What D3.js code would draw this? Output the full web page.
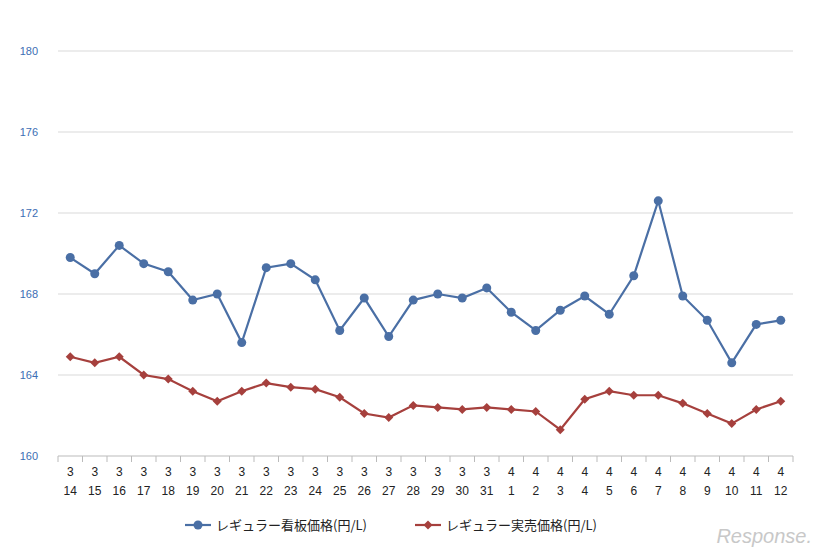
<!DOCTYPE html>
<html><head><meta charset="utf-8">
<script src="https://cdn.jsdelivr.net/npm/d3@7"></script>
<style>body{margin:0;background:#fff;font-family:"Noto Sans CJK JP","Liberation Sans",sans-serif}</style>
</head><body><svg id="c" width="827" height="557"></svg>
<script>
const months=[3,3,3,3,3,3,3,3,3,3,3,3,3,3,3,3,3,3,4,4,4,4,4,4,4,4,4,4,4,4];
const days=[14,15,16,17,18,19,20,21,22,23,24,25,26,27,28,29,30,31,1,2,3,4,5,6,7,8,9,10,11,12];
const signPrice=[169.8,169.0,170.4,169.5,169.1,167.7,168.0,165.6,169.3,169.5,168.7,166.2,167.8,165.9,167.7,168.0,167.8,168.3,167.1,166.2,167.2,167.9,167.0,168.9,172.6,167.9,166.7,164.6,166.5,166.7];
const actualPrice=[164.9,164.6,164.9,164.0,163.8,163.2,162.7,163.2,163.6,163.4,163.3,162.9,162.1,161.9,162.5,162.4,162.3,162.4,162.3,162.2,161.3,162.8,163.2,163.0,163.0,162.6,162.1,161.6,162.3,162.7];
const yTicks=[160,164,168,172,176,180];
const seriesNames=["レギュラー看板価格(円/L)","レギュラー実売価格(円/L)"];
const colors=["#4a6fa5","#a6403d"];

const svg=d3.select("#c");
const idx=d3.range(days.length);
const x=d3.scaleBand().domain(idx).range([58,793]);
const y=d3.scaleLinear().domain([160,180]).range([456,51]);

svg.append("g").selectAll("line").data(yTicks.slice(1)).join("line")
 .attr("x1",58).attr("x2",793).attr("y1",d=>y(d)).attr("y2",d=>y(d)).attr("stroke","#d9d9d9");
svg.append("line").attr("x1",58).attr("x2",793).attr("y1",y(160)).attr("y2",y(160)).attr("stroke","#bbb");
svg.append("g").selectAll("line").data(d3.range(days.length+1)).join("line")
 .attr("x1",d=>58+d*x.step()).attr("x2",d=>58+d*x.step()).attr("y1",456).attr("y2",462).attr("stroke","#bbb");
svg.append("g").selectAll("text").data(yTicks).join("text")
 .attr("x",38).attr("y",d=>y(d)+4).attr("text-anchor","end").attr("font-size",11).attr("fill","#3c6eb4")
 .attr("font-family","Liberation Sans").text(d=>d);
const xl=svg.append("g").attr("font-size",12).attr("fill","#222").attr("font-family","Liberation Sans").attr("text-anchor","middle");
idx.forEach(i=>{
 const cx=x(i)+x.bandwidth()/2;
 xl.append("text").attr("x",cx).attr("y",476).text(months[i]);
 xl.append("text").attr("x",cx).attr("y",495).text(days[i]);
});
const line=d3.line().x((d,i)=>x(i)+x.bandwidth()/2).y(d=>y(d));
[signPrice,actualPrice].forEach((s,k)=>{
 svg.append("path").attr("d",line(s)).attr("fill","none").attr("stroke",colors[k]).attr("stroke-width",2.2);
 const g=svg.append("g").attr("fill",colors[k]);
 s.forEach((v,i)=>{
  const cx=x(i)+x.bandwidth()/2, cy=y(v);
  if(k==0) g.append("circle").attr("cx",cx).attr("cy",cy).attr("r",4.5);
  else g.append("path").attr("d",`M${cx},${cy-4.5}L${cx+4.5},${cy}L${cx},${cy+4.5}L${cx-4.5},${cy}Z`);
 });
});
const lx=[185,415];
lx.forEach((lxx,k)=>{
 svg.append("line").attr("x1",lxx).attr("x2",lxx+26).attr("y1",525).attr("y2",525).attr("stroke",colors[k]).attr("stroke-width",2.2);
 if(k==0) svg.append("circle").attr("cx",lxx+13).attr("cy",525).attr("r",4.5).attr("fill",colors[k]);
 else svg.append("path").attr("d",`M${lxx+13},520.5L${lxx+17.5},525L${lxx+13},529.5L${lxx+8.5},525Z`).attr("fill",colors[k]);
 svg.append("text").attr("x",lxx+31).attr("y",530).attr("font-size",13).attr("fill","#222").text(seriesNames[k]);
});
svg.append("text").attr("x",812).attr("y",543).attr("text-anchor","end").attr("font-size",20).attr("font-style","italic")
 .attr("fill","#c8c8c8").attr("font-family","Liberation Sans").text("Response.");
</script></body></html>
